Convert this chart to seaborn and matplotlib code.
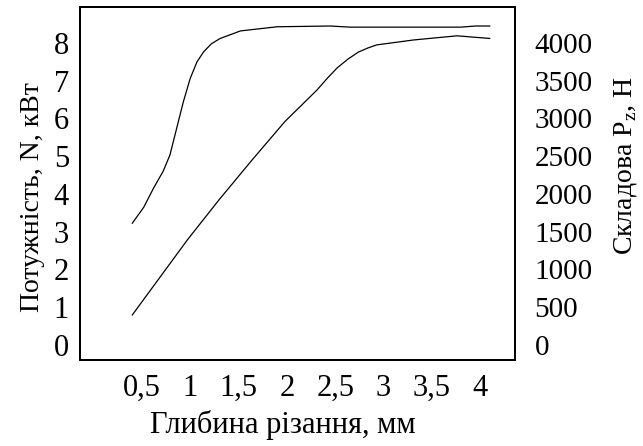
import matplotlib
matplotlib.use("Agg")
import matplotlib.pyplot as plt
import seaborn as sns
import pandas as pd

# глибина різання, мм -> потужність N, кВт (верхня крива)
depth_n = [0.40, 0.52, 0.62, 0.72, 0.79, 0.86, 0.93, 1.00, 1.07, 1.14, 1.22, 1.31, 1.52, 1.90, 2.45, 2.65, 3.80, 3.95, 4.10]
power_n = [3.22, 3.65, 4.15, 4.60, 5.03, 5.74, 6.45, 7.06, 7.50, 7.77, 7.98, 8.12, 8.32, 8.43, 8.45, 8.42, 8.42, 8.45, 8.45]

# глибина різання, мм -> складова Pz, Н (нижня крива)
depth_pz = [0.40, 0.97, 1.30, 1.64, 1.98, 2.31, 2.42, 2.52, 2.63, 2.74, 2.84, 2.93, 3.31, 3.76, 4.10]
force_pz = [395, 1390, 1925, 2450, 2960, 3375, 3535, 3670, 3785, 3880, 3935, 3975, 4040, 4095, 4060]

x_ticks = [0.5, 1, 1.5, 2, 2.5, 3, 3.5, 4]
x_labels = ["0,5", "1", "1,5", "2", "2,5", "3", "3,5", "4"]
left_ticks = [0, 1, 2, 3, 4, 5, 6, 7, 8]
right_ticks = [0, 500, 1000, 1500, 2000, 2500, 3000, 3500, 4000]

sns.set_theme(style="white")
plt.rcParams["font.family"] = ["Liberation Serif", "DejaVu Serif"]
plt.rcParams["mathtext.fontset"] = "custom"
plt.rcParams["mathtext.rm"] = "Liberation Serif"

fig = plt.figure(figsize=(6.43, 4.46), dpi=100)
ax = fig.add_axes([0.1244, 0.1928, 0.801 - 0.1244, 0.984 - 0.1928])
ax2 = ax.twinx()

df_n = pd.DataFrame({"d": depth_n, "n": power_n})
df_pz = pd.DataFrame({"d": depth_pz, "pz": force_pz})
sns.lineplot(data=df_n, x="d", y="n", ax=ax, color="black", linewidth=0.9, sort=False)
sns.lineplot(data=df_pz, x="d", y="pz", ax=ax2, color="black", linewidth=0.9, sort=False)

ax.set_xlim(-0.14, 4.36)
ax.set_ylim(-0.4, 8.95)
ax2.set_ylim(-200, 4475)

fs = 22
ax.set_xticks(x_ticks)
ax.set_xticklabels(x_labels, fontsize=fs)
ax.set_yticks(left_ticks)
ax.set_yticklabels([str(t) for t in left_ticks], fontsize=fs)
ax2.set_yticks(right_ticks)
ax2.set_yticklabels([str(t) for t in right_ticks], fontsize=21)

ax.tick_params(axis="x", length=0, pad=10, colors="black")
ax.tick_params(axis="y", length=0, pad=8, colors="black")
ax2.tick_params(axis="y", length=0, pad=14, colors="black")

ax.set_xlabel("Глибина різання, мм", fontsize=fs, color="black")
ax.set_ylabel("Потужність, N, кВт", fontsize=20, color="black")
ax2.set_ylabel(r"Складова P$_\mathregular{z}$, Н", fontsize=20, color="black")
ax.xaxis.set_label_coords(0.466, -0.142)
ax.yaxis.set_label_coords(-0.08, 0.463)
ax2.yaxis.set_label_coords(1.222, 0.552)

for a in (ax, ax2):
    for s in a.spines.values():
        s.set_color("black")
        s.set_linewidth(1.3)

fig.savefig("out.png", dpi=100)
